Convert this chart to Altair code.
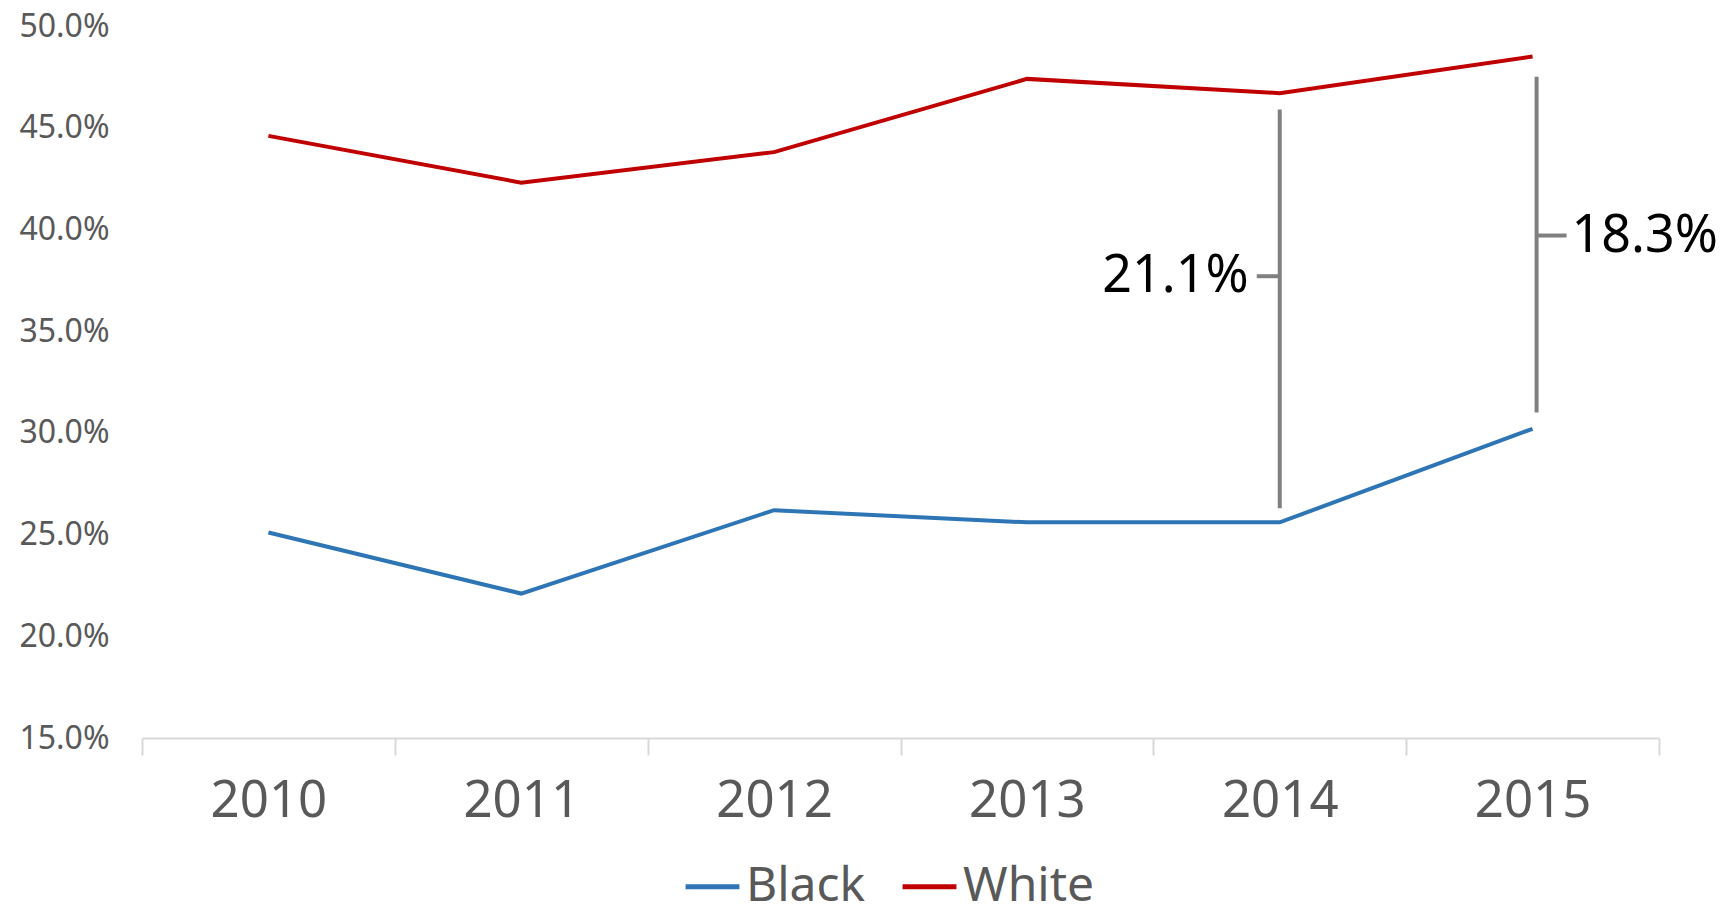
import altair as alt
import pandas as pd

years = ["2010", "2011", "2012", "2013", "2014", "2015"]
black = [25.1, 22.1, 26.2, 25.6, 25.6, 30.2]
white = [44.6, 42.3, 43.8, 47.4, 46.7, 48.5]
series = ["Black", "White"]
colors = ["#2E75B6", "#C00000"]
y_ticks = [15, 20, 25, 30, 35, 40, 45, 50]

# gap annotations
gap_years = ["2014", "2015"]
gap_top = [45.9, 47.5]
gap_bottom = [26.3, 31.0]
gap_mid = [37.7, 39.7]
gap_labels = ["21.1%", "18.3%"]

FONT = "Noto Sans"

df = pd.DataFrame(
    {
        "year": years * 2,
        "value": black + white,
        "series": ["Black"] * len(years) + ["White"] * len(years),
    }
)
gaps = pd.DataFrame(
    {"year": gap_years, "top": gap_top, "bottom": gap_bottom, "mid": gap_mid, "label": gap_labels}
)

xscale = alt.Scale(type="band", domain=years, paddingInner=0, paddingOuter=0)
yscale = alt.Scale(domain=[15, 50], nice=False, zero=False)

x_enc = alt.X(
    "year:O",
    scale=xscale,
    bandPosition=0.5,
    axis=alt.Axis(
        title=None,
        labelAngle=0,
        labelFontSize=51,
        labelColor="#595959",
        labelFont=FONT,
        labelPadding=21,
        domainColor="#d9d9d9",
        domainWidth=2,
        tickColor="#d9d9d9",
        tickWidth=2,
        tickSize=17,
        tickBand="extent",
        grid=False,
    ),
)
y_enc = alt.Y(
    "value:Q",
    scale=yscale,
    axis=alt.Axis(
        title=None,
        values=y_ticks,
        labelExpr="format(datum.value, '.1f') + '%'",
        labelFontSize=32,
        labelColor="#595959",
        labelFont=FONT,
        labelPadding=33,
        domain=False,
        ticks=False,
        grid=False,
    ),
)

lines = (
    alt.Chart(df)
    .mark_line(strokeWidth=4)
    .encode(
        x=x_enc,
        y=y_enc,
        color=alt.Color(
            "series:N",
            scale=alt.Scale(domain=series, range=colors),
            legend=alt.Legend(
                title=None,
                orient="none",
                legendX=541,
                legendY=831,
                direction="horizontal",
                symbolType="stroke",
                symbolSize=2900,
                symbolStrokeWidth=5,
                labelFontSize=48,
                labelColor="#595959",
                labelFont=FONT,
                labelOffset=4,
                columnPadding=26,
            ),
        ),
    )
)

gx = alt.X("year:O", scale=xscale, bandPosition=0.5)

bracket_2014 = (
    alt.Chart(gaps)
    .transform_filter("datum.year == '2014'")
    .mark_rule(color="#808080", strokeWidth=4)
    .encode(x=gx, y=alt.Y("top:Q", scale=yscale), y2="bottom:Q")
)
bracket_2015 = (
    alt.Chart(gaps)
    .transform_filter("datum.year == '2015'")
    .mark_rule(color="#808080", strokeWidth=4, xOffset=4)
    .encode(x=gx, y=alt.Y("top:Q", scale=yscale), y2="bottom:Q")
)

tick_2014 = (
    alt.Chart(gaps)
    .transform_filter("datum.year == '2014'")
    .mark_rule(color="#808080", strokeWidth=4, xOffset=-23)
    .encode(x=gx, x2="year:O", y=alt.Y("mid:Q", scale=yscale))
)
tick_2015 = (
    alt.Chart(gaps)
    .transform_filter("datum.year == '2015'")
    .mark_rule(color="#808080", strokeWidth=4, xOffset=4, x2Offset=34)
    .encode(x=gx, x2="year:O", y=alt.Y("mid:Q", scale=yscale))
)
text_2014 = (
    alt.Chart(gaps)
    .transform_filter("datum.year == '2014'")
    .mark_text(align="right", baseline="middle", dx=-31, fontSize=52, font=FONT, color="#000000")
    .encode(x=gx, y=alt.Y("mid:Q", scale=yscale), text="label:N")
)
text_2015 = (
    alt.Chart(gaps)
    .transform_filter("datum.year == '2015'")
    .mark_text(align="left", baseline="middle", dx=39, fontSize=52, font=FONT, color="#000000")
    .encode(x=gx, y=alt.Y("mid:Q", scale=yscale), text="label:N")
)

chart = (
    alt.layer(lines, bracket_2014, bracket_2015, tick_2014, tick_2015, text_2014, text_2015)
    .properties(
        width=1517,
        height=712,
        autosize=alt.AutoSizeParams(type="none"),
        padding={"left": 134, "top": 18, "right": 60, "bottom": 175},
    )
    .configure_view(stroke=None)
)

chart.save("out.html", embed_options={"renderer": "svg", "actions": False})
